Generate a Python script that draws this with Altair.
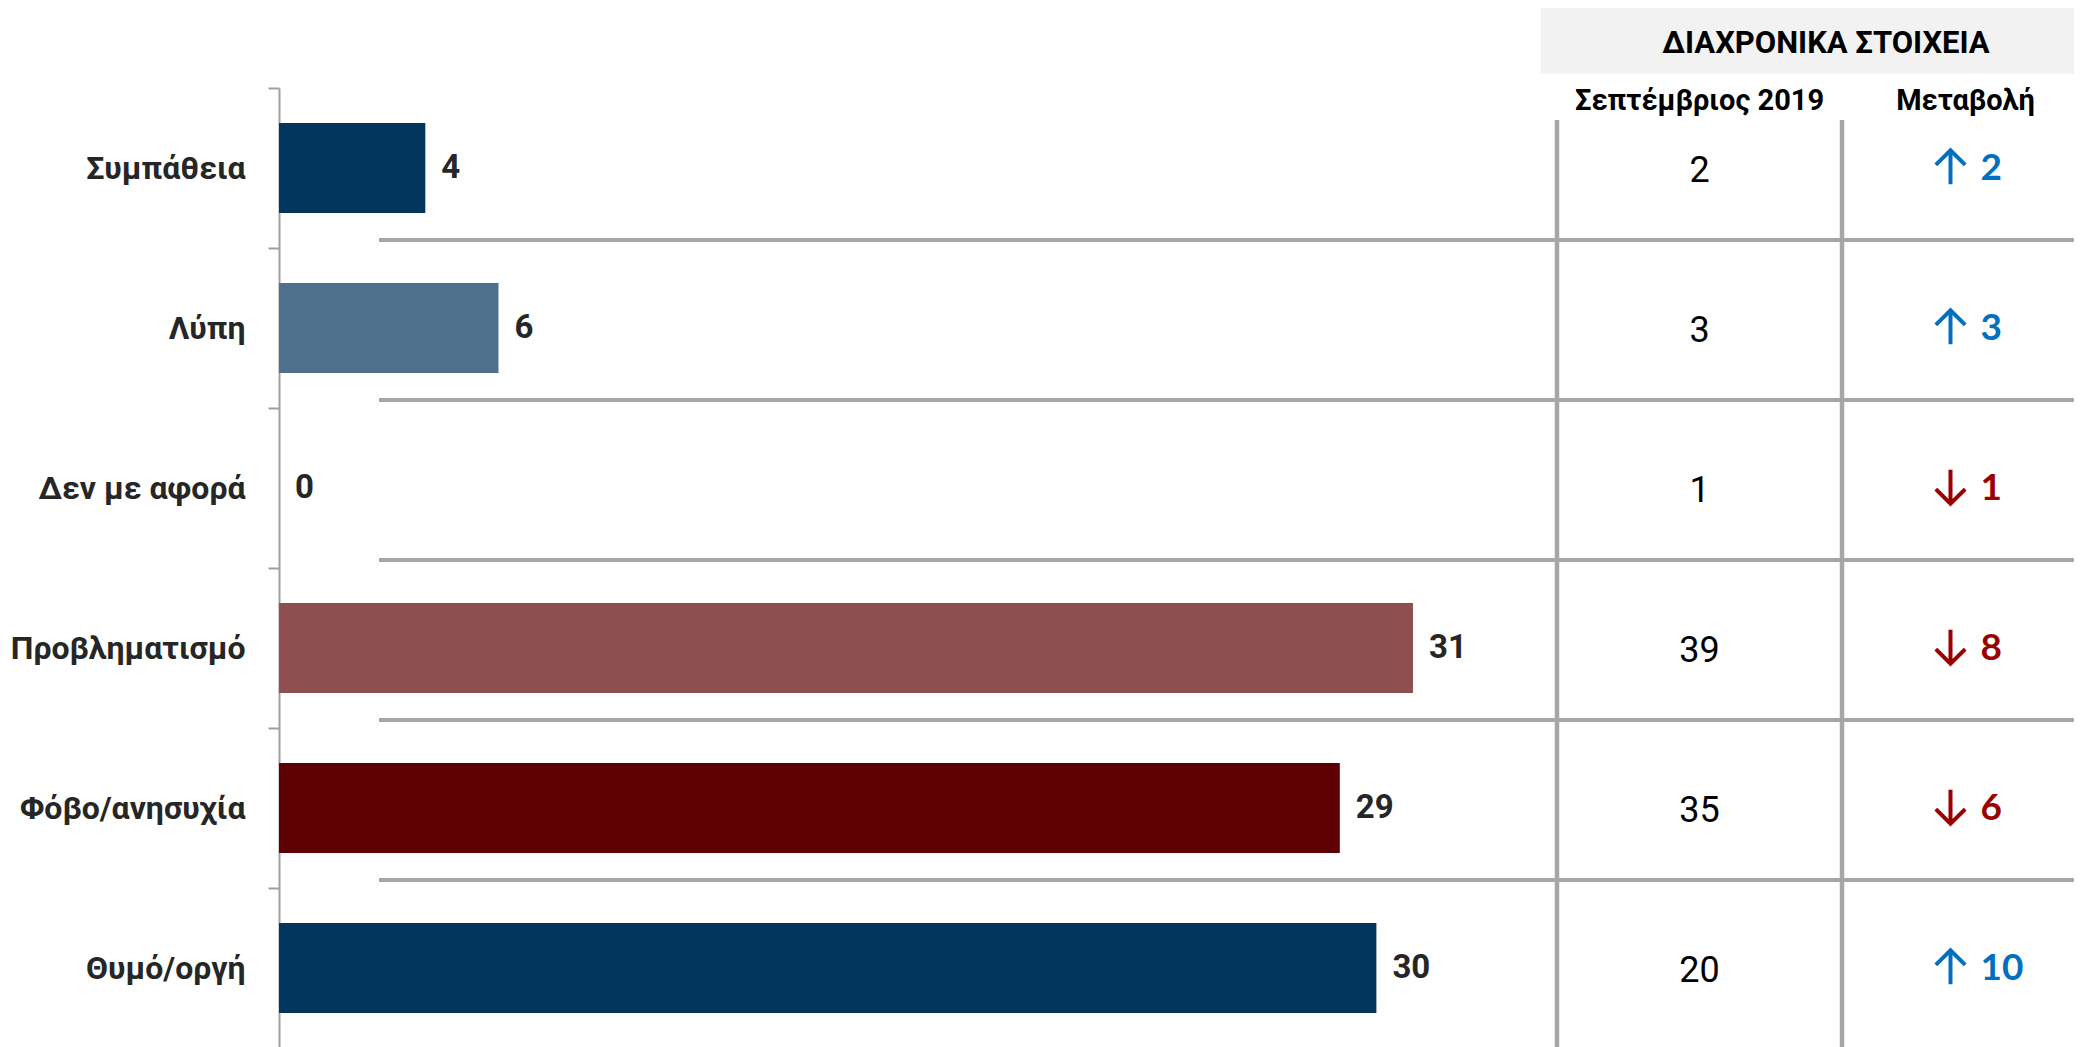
import altair as alt
import pandas as pd

# ---------------- data ----------------
categories = ["Συμπάθεια", "Λύπη", "Δεν με αφορά", "Προβληματισμό", "Φόβο/ανησυχία", "Θυμό/οργή"]
values = [4, 6, 0, 31, 29, 30]
sep2019 = [2, 3, 1, 39, 35, 20]
change = [2, 3, -1, -8, -6, 10]
bar_colors = ["#02365c", "#4f708c", "#ffffff", "#8e4f50", "#5f0004", "#02365c"]
table_columns = ["Σεπτέμβριος 2019", "Μεταβολή"]
table_title = "ΔΙΑΧΡΟΝΙΚΑ ΣΤΟΙΧΕΙΑ"

# ---------------- layout / style ----------------
W, H = 1795, 960
PX_PER_UNIT = 36.58
X_MAX = W / PX_PER_UNIT
FONT = "Roboto, Liberation Sans, sans-serif"
CHG_FONT = "Lato, Carlito, Roboto, sans-serif"
GRID = "#a6a6a6"
UP, DOWN = "#0070c0", "#9b0000"
UP_PATH = "M0,-1L0,1M-0.85,-0.12L0,-0.97L0.85,-0.12"
DOWN_PATH = "M0,-1L0,1M-0.85,0.12L0,0.97L0.85,0.12"

df = pd.DataFrame({"cat": categories, "value": values, "sep": sep2019, "chg": change})
df["chg_abs"] = [abs(c) for c in change]
df["dir"] = ["up" if c > 0 else "down" for c in change]
df["col1"] = table_columns[0]
df["col2"] = table_columns[1]

cols_df = pd.DataFrame({"col": table_columns})
title_df = pd.DataFrame({"title": [table_title]})
sep_df = pd.DataFrame({"cat": categories[:-1]})

y_axis = alt.Axis(
    title=None, tickBand="extent", tickSize=11, tickWidth=2, tickColor="#a0a0a0",
    domainColor="#a0a0a0", domainWidth=2, labelFont=FONT, labelFontSize=32,
    labelFontWeight="bold", labelColor="#262626", labelPadding=23, labelLimit=500,
    grid=False,
)
y_scale = alt.Scale(domain=categories, paddingInner=0, paddingOuter=0)


def y_enc(**kw):
    return alt.Y("cat:N", sort=categories, scale=y_scale, axis=y_axis, **kw)


x_bar = alt.X("value:Q", scale=alt.Scale(domain=[0, X_MAX], nice=False, zero=True), axis=None)
tab_scale = alt.Scale(domain=table_columns, range=[1278, 1848], paddingInner=0, paddingOuter=0)
dir_color = alt.Color("dir:N", scale=alt.Scale(domain=["up", "down"], range=[UP, DOWN]), legend=None)

header_box = alt.Chart(title_df).mark_rect(color="#f2f2f2").encode(
    x=alt.value(1262), x2=alt.value(W), y=alt.value(-80), y2=alt.value(-14.5)
)
header_text = alt.Chart(title_df).mark_text(
    font=FONT, fontSize=31, fontWeight="bold", color="black", align="center", baseline="middle"
).encode(x=alt.value(1547), y=alt.value(-44), text="title:N")

separators = alt.Chart(sep_df).mark_rule(color=GRID, strokeWidth=4, yOffset=-8).encode(
    y=y_enc(bandPosition=1), x=alt.value(100), x2=alt.value(W)
)
vlines = alt.Chart(cols_df).mark_rule(color=GRID, strokeWidth=4.5).encode(
    x=alt.X("col:N", scale=tab_scale, bandPosition=0, axis=None),
    y=alt.value(32), y2=alt.value(H),
)

bars = alt.Chart(df).mark_bar(size=90).encode(
    x=x_bar, y=y_enc(),
    color=alt.Color("cat:N", scale=alt.Scale(domain=categories, range=bar_colors), legend=None),
)
bar_labels = alt.Chart(df).mark_text(
    font=FONT, fontSize=33, fontWeight="bold", color="#262626", align="left", baseline="middle", dx=16
).encode(x=x_bar, y=y_enc(), text="value:Q")

col_dx = [0, -19]
col_headers = []
for c, dx in zip(table_columns, col_dx):
    col_headers.append(
        alt.Chart(cols_df[cols_df["col"] == c]).mark_text(
            font=FONT, fontSize=29, fontWeight="bold", color="black", align="center",
            baseline="alphabetic", dx=dx,
        ).encode(
            x=alt.X("col:N", scale=tab_scale, axis=None),
            y=alt.value(22), text="col:N",
        )
    )

col1_vals = alt.Chart(df).mark_text(
    font=FONT, fontSize=36, color="black", align="center", baseline="middle", dy=3
).encode(
    x=alt.X("col1:N", scale=tab_scale, axis=None),
    y=y_enc(), text="sep:Q",
)
arrows = alt.Chart(df).mark_point(
    filled=False, size=1190, strokeWidth=4, opacity=1, xOffset=-34, yOffset=-1
).encode(
    x=alt.X("col2:N", scale=tab_scale, axis=None),
    y=y_enc(),
    shape=alt.Shape("dir:N", scale=alt.Scale(domain=["up", "down"], range=[UP_PATH, DOWN_PATH]), legend=None),
    color=dir_color,
)
chg_vals = alt.Chart(df).mark_text(
    font=CHG_FONT, fontSize=37, fontWeight="bold", align="left", baseline="middle", dx=-4, dy=1
).encode(
    x=alt.X("col2:N", scale=tab_scale, axis=None),
    y=y_enc(), text="chg_abs:Q", color=dir_color,
)

chart = alt.layer(
    header_box, header_text, separators, vlines, bars, bar_labels,
    *col_headers, col1_vals, arrows, chg_vals,
).resolve_scale(
    x="independent", color="independent"
).properties(
    width=W, height=H,
    padding={"left": 271, "top": 80, "right": 0, "bottom": 2},
    autosize=alt.AutoSizeParams(type="none"),
    background="white",
).configure_view(stroke=None)

chart.save("out.html", embed_options={"renderer": "svg", "actions": False})
